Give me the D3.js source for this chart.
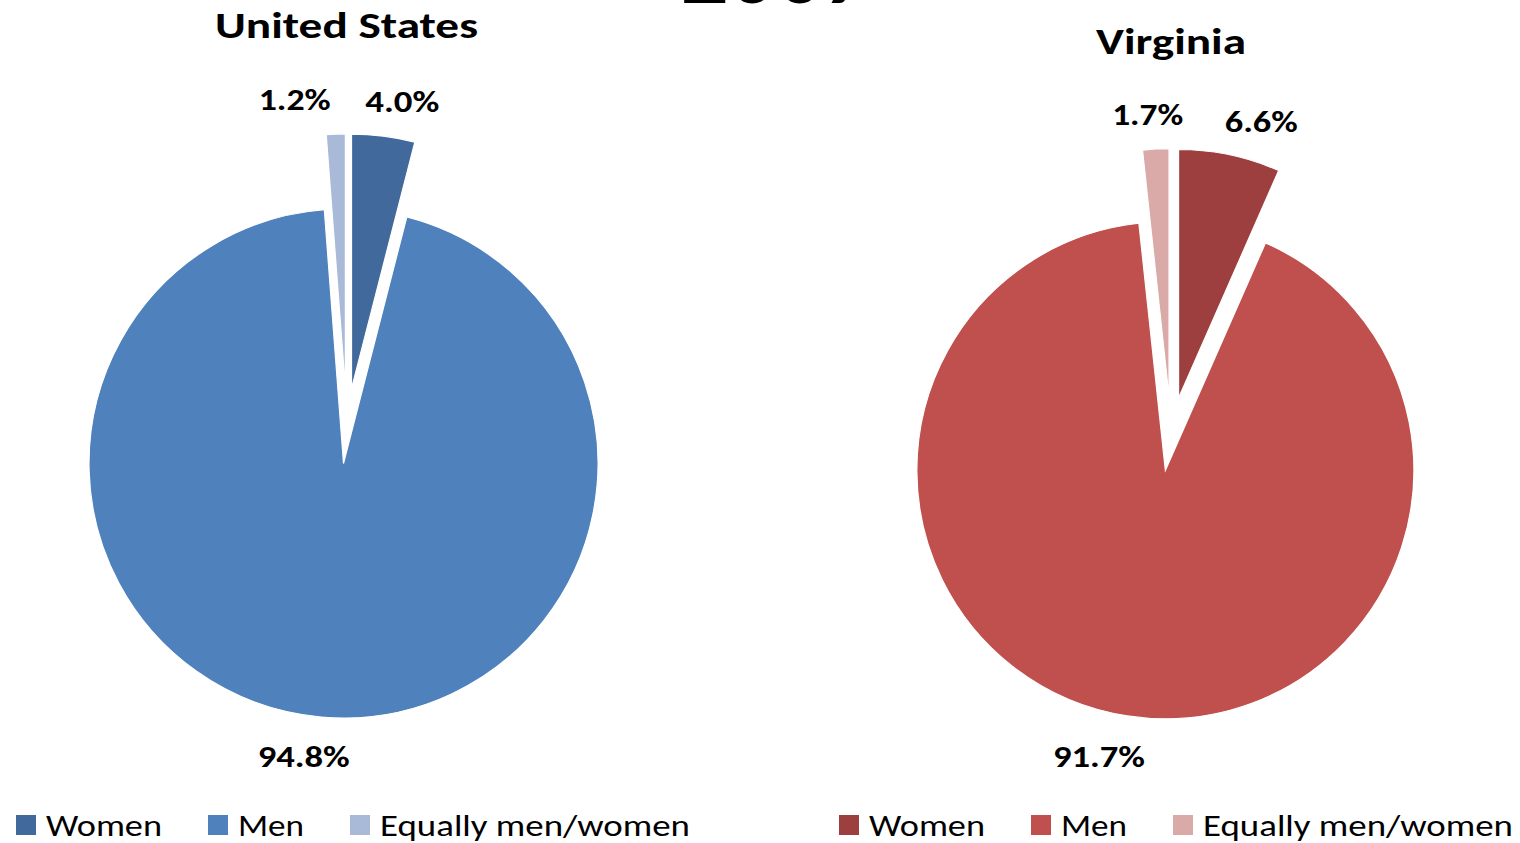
<!DOCTYPE html>
<html>
<head>
<meta charset="utf-8">
<script src="https://cdn.jsdelivr.net/npm/d3@7"></script>
<style>
  html, body { margin: 0; padding: 0; background: #fff; }
  svg { display: block; }
  text { font-family: Carlito, Calibri, Lato, "Open Sans", sans-serif; fill: #000; }
</style>
</head>
<body>
<svg id="chart" width="1520" height="843"></svg>
<script>
// ---------------- data ----------------
const pageTitle = "2007";
const categories = ["Women", "Men", "Equally men/women"];
const chartTitles = ["United States", "Virginia"];
const usValues = [4.0, 94.8, 1.2];
const vaValues = [6.6, 91.7, 1.7];
const usColors = ["#41699C", "#4F81BD", "#A9BAD8"];
const vaColors = ["#9D3F3F", "#C0504D", "#DAAAA9"];

// ---------------- layout ----------------
const layout = [
  { cx: 346.8, cy: 426, r: 254.5, titleX: 346.5, titleY: 38, titleW: 263,
    labelNudge: [2.5, 2.4, -6.9], labelK: [1.295, 1.308, 1.30],
    legendX: 16 },
  { cx: 1171, cy: 434, r: 248.5, titleX: 1171, titleY: 54, titleW: 150,
    labelNudge: [4.2, 3.8, -1.1], labelK: [1.311, 1.328, 1.293],
    legendX: 839 }
];
const explodeFrac = 0.148;
const labelWidths = { "4.0%": 74, "1.2%": 72, "94.8%": 92, "6.6%": 73, "1.7%": 71, "91.7%": 92 };
const legendTextW = [116, 66, 310];
const legendGap = 46;

const svg = d3.select("#chart");

// clipped page title at very top
svg.append("text")
  .attr("x", 681).attr("y", 2.5)
  .attr("font-weight", "bold")
  .attr("font-size", 92)
  .attr("textLength", 190)
  .attr("lengthAdjust", "spacingAndGlyphs")
  .text(pageTitle);

const pie = d3.pie().sort(null).value(d => d);
const fmt = v => v.toFixed(1) + "%";

[[usValues, usColors], [vaValues, vaColors]].forEach(([vals, cols], ci) => {
  const L = layout[ci];
  const arcs = pie(vals);
  const arc = d3.arc().innerRadius(0).outerRadius(L.r);
  const d = L.r * explodeFrac;
  const g = svg.append("g").attr("transform", `translate(${L.cx},${L.cy})`);

  g.selectAll("path.slice").data(arcs).enter().append("path")
    .attr("class", "slice")
    .attr("d", arc)
    .attr("fill", (a, i) => cols[i])
    .attr("stroke", "#fff")
    .attr("stroke-width", 1.2)
    .attr("transform", a => {
      const m = (a.startAngle + a.endAngle) / 2;
      return `translate(${d * Math.sin(m)},${-d * Math.cos(m)})`;
    });

  // data labels
  g.selectAll("text.lbl").data(arcs).enter().append("text")
    .attr("class", "lbl")
    .attr("font-weight", "bold")
    .attr("font-size", 31)
    .attr("text-anchor", "middle")
    .each(function (a, i) {
      const m = (a.startAngle + a.endAngle) / 2 + L.labelNudge[i] * Math.PI / 180;
      const rr = L.r * L.labelK[i];
      const t = fmt(a.data);
      d3.select(this)
        .attr("x", rr * Math.sin(m))
        .attr("y", -rr * Math.cos(m) + 11)
        .attr("textLength", labelWidths[t])
        .attr("lengthAdjust", "spacingAndGlyphs")
        .text(t);
    });

  // title
  svg.append("text")
    .attr("x", L.titleX).attr("y", L.titleY)
    .attr("text-anchor", "middle")
    .attr("font-weight", "bold")
    .attr("font-size", 36)
    .attr("textLength", L.titleW)
    .attr("lengthAdjust", "spacingAndGlyphs")
    .text(chartTitles[ci]);

  // legend
  let x = L.legendX;
  const lg = svg.append("g");
  categories.forEach((c, i) => {
    lg.append("rect").attr("x", x).attr("y", 815).attr("width", 20).attr("height", 20)
      .attr("fill", cols[i]);
    lg.append("text").attr("x", x + 30).attr("y", 836)
      .attr("font-size", 31)
      .attr("textLength", legendTextW[i])
      .attr("lengthAdjust", "spacingAndGlyphs")
      .text(c);
    x = x + 30 + legendTextW[i] + legendGap;
  });
});
</script>
</body>
</html>
